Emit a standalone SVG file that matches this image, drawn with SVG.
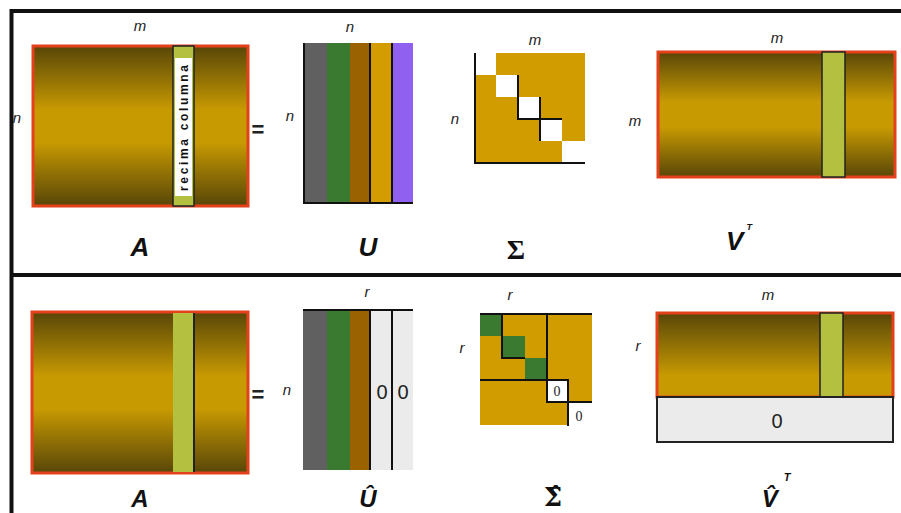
<svg xmlns="http://www.w3.org/2000/svg" width="901" height="513" viewBox="0 0 901 513">
<defs>
<linearGradient id="g" x1="0" y1="0" x2="0" y2="1">
<stop offset="0" stop-color="#584608"/>
<stop offset="0.4" stop-color="#c89a02"/>
<stop offset="0.6" stop-color="#c89a02"/>
<stop offset="1" stop-color="#584608"/>
</linearGradient>
<linearGradient id="gh" x1="0" y1="0" x2="0" y2="1">
<stop offset="0" stop-color="#584608"/>
<stop offset="0.75" stop-color="#c89a02"/>
<stop offset="1" stop-color="#c89a02"/>
</linearGradient>
</defs>
<style>
.mat{fill:url(#g);stroke:#e4401c;stroke-width:3}
.col{fill:#b4c040;stroke:#222;stroke-width:1.5}
.lbl{font-family:"Liberation Sans",Arial,sans-serif;font-style:italic;font-size:15px;fill:#222;text-anchor:middle}
.eq{font-family:"Liberation Sans",Arial,sans-serif;font-weight:bold;font-size:22px;fill:#222;text-anchor:middle}
.big{font-family:"Liberation Sans",Arial,sans-serif;font-weight:bold;font-style:italic;font-size:26px;fill:#111;text-anchor:middle}
.bb{font-size:24px}
.sig{font-family:"Liberation Serif","Times New Roman",serif;font-weight:bold;font-size:28px;fill:#111;text-anchor:middle}
.sigh{font-family:"DejaVu Serif",serif;font-weight:bold;font-size:26px;fill:#111;text-anchor:middle}
.zero{font-family:"Liberation Sans",Arial,sans-serif;font-size:20px;fill:#222;text-anchor:middle}
.zs{font-family:"Liberation Serif",serif;font-size:14px;fill:#222;text-anchor:middle}
.sup{font-family:"Liberation Sans",Arial,sans-serif;font-weight:bold;fill:#111}
.ln{stroke:#111;stroke-width:2;fill:none}
.gold{fill:#d09c00}
</style>
<g id="frame">
<path d="M11.5,513 V11 H901" fill="none" stroke="#111" stroke-width="4"/>
<line x1="11" y1="275" x2="901" y2="275" stroke="#111" stroke-width="4"/>
</g>
<g id="A-top">
<rect x="33" y="46" width="215" height="160" class="mat"/>
<rect x="173" y="46" width="21" height="160" class="col"/>
<rect x="175" y="58" width="17" height="138" fill="#fff"/>
<text x="184" y="128" transform="rotate(-90 184 128)" font-family="Liberation Sans, Arial, sans-serif" font-weight="bold" font-size="12" fill="#111" text-anchor="middle" dominant-baseline="central" textLength="126" lengthAdjust="spacing">recima columna</text>
<text x="140" y="31" class="lbl">m</text>
<text x="17" y="123" class="lbl">n</text>
<text x="140" y="256" class="big">A</text>
</g>
<g id="eq-top">
<text x="258" y="137" class="eq">=</text>
<text x="290" y="121" class="lbl">n</text>
</g>
<g id="U-top">
<rect x="303" y="43" width="24" height="160" fill="#606060"/>
<rect x="327" y="43" width="23" height="160" fill="#3a7a30"/>
<rect x="350" y="43" width="20" height="160" fill="#9a6200"/>
<rect x="370" y="43" width="22" height="160" fill="#d39c00"/>
<rect x="392" y="43" width="21" height="160" fill="#9060f0"/>
<path d="M304,43 V203 H413 M370,43 V203 M392,43 V203" class="ln"/>
<text x="350" y="32" class="lbl">n</text>
<text x="368" y="256" class="big">U</text>
</g>
<g id="S-top">
<path d="M496,53 H585 V141 H562 V163 H474 V75 H496 Z" class="gold"/>
<rect x="496" y="75" width="22" height="22" fill="#fff"/>
<rect x="518" y="97" width="22" height="22" fill="#fff"/>
<rect x="540" y="119" width="22" height="22" fill="#fff"/>
<path d="M475,53 V163 H585 M518,75 V119 H562 M540,97 V141" class="ln"/>
<text x="535" y="45" class="lbl">m</text>
<text x="455" y="124" class="lbl">n</text>
<text x="516" y="259" class="sig">Σ</text>
</g>
<g id="VT-top">
<rect x="658" y="52" width="237" height="125" class="mat"/>
<rect x="822" y="52" width="23" height="125" class="col"/>
<text x="777" y="43" class="lbl">m</text>
<text x="635" y="126" class="lbl">m</text>
<text x="739" y="250" class="big">V<tspan class="sup" font-size="9" dx="3" dy="-20">T</tspan></text>
</g>
<g id="A-bot">
<rect x="32" y="312" width="216" height="161" class="mat"/>
<rect x="173" y="313" width="20" height="159" fill="#b4c040"/>
<line x1="194" y1="313" x2="194" y2="472" stroke="#222" stroke-width="2"/>
<text x="140" y="507" class="big bb">A</text>
</g>
<g id="eq-bot">
<text x="258" y="402" class="eq">=</text>
<text x="287" y="395" class="lbl">n</text>
</g>
<g id="U-bot">
<rect x="303" y="310" width="24" height="160" fill="#606060"/>
<rect x="327" y="310" width="23" height="160" fill="#3a7a30"/>
<rect x="350" y="310" width="20" height="160" fill="#9a6200"/>
<rect x="370" y="310" width="43" height="160" fill="#ebebeb"/>
<path d="M303,310 H413 M370,310 V470 M392,310 V470" class="ln"/>
<text x="382" y="399" class="zero">0</text>
<text x="403" y="399" class="zero">0</text>
<text x="367" y="297" class="lbl">r</text>
<text x="368" y="507" class="big bb">Û</text>
</g>
<g id="S-bot">
<rect x="480" y="314" width="112" height="111" class="gold"/>
<rect x="480" y="314" width="22" height="22" fill="#3a7a30"/>
<rect x="502" y="336" width="23" height="22" fill="#3a7a30"/>
<rect x="525" y="358" width="22" height="22" fill="#3a7a30"/>
<rect x="547" y="380" width="21" height="22" fill="#fff"/>
<rect x="568" y="402" width="25" height="24" fill="#fff"/>
<path d="M480,314 H592 M502,314 V358 H525 M547,314 V380 M480,380 H568 V402 M547,380 V402 H592 M568,402 V426" class="ln"/>
<text x="557" y="396" class="zs">0</text>
<text x="579" y="421" class="zs">0</text>
<text x="510" y="300" class="lbl">r</text>
<text x="462" y="353" class="lbl">r</text>
<text x="553" y="506" class="sigh">Σ̂</text>
</g>
<g id="VT-bot">
<rect x="657" y="313" width="236" height="84" fill="url(#gh)" stroke="#e4401c" stroke-width="3"/>
<rect x="820" y="313" width="23" height="84" class="col"/>
<rect x="657" y="397" width="236" height="45" fill="#ebebeb" stroke="#222" stroke-width="2"/>
<text x="777" y="428" class="zero">0</text>
<text x="768" y="300" class="lbl">m</text>
<text x="638" y="351" class="lbl">r</text>
<text x="776" y="507" class="big bb">V̂<tspan class="sup" font-size="11" dx="6" dy="-26">T</tspan></text>
</g>
</svg>
